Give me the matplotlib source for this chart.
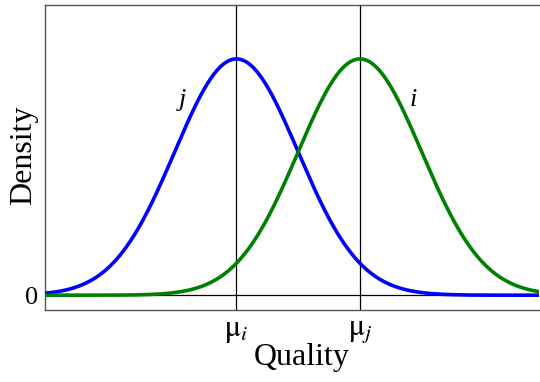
import numpy as np
import matplotlib
matplotlib.use("Agg")
import matplotlib.pyplot as plt

plt.rcParams['font.family'] = ['Liberation Serif', 'DejaVu Serif']
plt.rcParams['mathtext.fontset'] = 'stix'

# Two quality distributions (unit variance), means two apart
mu_i = 0.0
mu_j = 2.0
sigma = 1.0
curve_labels = ['j', 'i']
curve_means = [mu_i, mu_j]
curve_colors = ['#0000ff', '#008000']
label_pos_x = [-0.88, 2.86]
label_pos_y = [0.33, 0.33]
tick_labels = [r'$\mathrm{\mu}_{i}$', r'$\mathrm{\mu}_{j}$']

x = np.linspace(-3.1, 4.9, 600)

def pdf(v, m, s):
    return np.exp(-0.5 * ((v - m) / s) ** 2) / (s * np.sqrt(2 * np.pi))

fig = plt.figure(figsize=(5.4, 3.82), dpi=100)
ax = fig.add_axes([45 / 540, 72 / 382, 494 / 540, 305 / 382])

ax.axhline(0, color='black', lw=0.9, zorder=1)
for m in curve_means:
    ax.axvline(m, color='black', lw=0.9, zorder=1)

for m, c in zip(curve_means, curve_colors):
    ax.plot(x, pdf(x, m, sigma), color=c, lw=2.6, zorder=3)

for lab, lx, ly in zip(curve_labels, label_pos_x, label_pos_y):
    ax.text(lx, ly, lab, fontsize=19, style='italic', ha='center', va='center')

ax.set_xlim(-3.1, 4.9)
ax.set_ylim(-0.025, 0.49)
ax.set_xticks(curve_means)
ax.set_xticklabels(tick_labels, fontsize=22)
ax.set_yticks([0])
ax.set_yticklabels(['0'], fontsize=19)
ax.tick_params(axis='x', length=0, pad=4)
ax.tick_params(axis='y', length=0, pad=5)
ax.set_xlabel('Quality', fontsize=23, va='center')
ax.set_ylabel('Density', fontsize=23, va='center')
ax.xaxis.set_label_coords((302 - 45) / 494, (310 - 357) / 305)
ax.yaxis.set_label_coords((24 - 45) / 494, (310 - 155) / 305)
for side in ['left', 'bottom', 'top']:
    ax.spines[side].set_color('#555555')
    ax.spines[side].set_linewidth(1.0)
ax.spines['right'].set_visible(False)

fig.savefig('out.png', dpi=100)
